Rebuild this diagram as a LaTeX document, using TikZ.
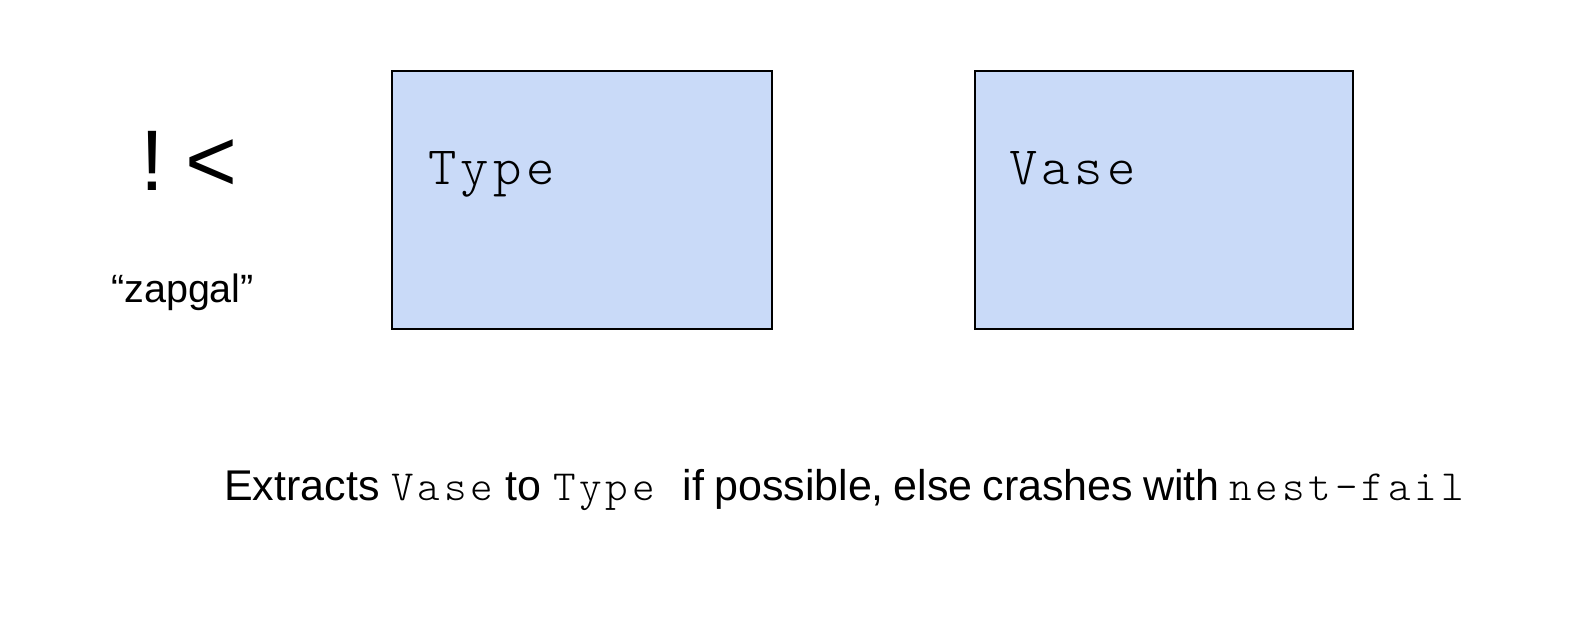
\documentclass[tikz,border=0pt]{standalone}
\usepackage{fontspec}
\setmainfont{Liberation Sans}
\newfontfamily\monofont{lmmonolt10-regular.otf}[LetterSpace=8]
\newfontfamily\capmono{lmmonolt10-regular.otf}[LetterSpace=9]
\definecolor{boxblue}{HTML}{C9DAF8}
\tikzset{
  typebox/.style={draw=black, line width=2pt, fill=boxblue},
  monolabel/.style={anchor=base west, inner sep=0pt, font=\monofont\fontsize{54}{60}\selectfont},
  plainlabel/.style={anchor=base west, inner sep=0pt}
}
\begin{document}
\begin{tikzpicture}[x=1pt,y=1pt]
\useasboundingbox (0,0) rectangle (1592,-616);
% boxes
\draw[typebox] (392,-71) rectangle (772,-329);
\draw[typebox] (975,-71) rectangle (1353,-329);
\node[monolabel] (type) at (428,-184) {Type};
\node[monolabel] (vase) at (1009,-184) {Vase};
% symbol
\node[plainlabel, font=\fontsize{86}{90}\selectfont] (bang) at (140,-190) {!};
\node[plainlabel, font=\fontsize{89}{95}\selectfont] (lt) at (185,-191) {<};
\node[plainlabel, font=\fontsize{39.5}{48}\selectfont] (zapgal) at (111,-302) {“zapgal”};
% caption
\node[plainlabel, font=\fontsize{43}{50}\selectfont] (caption) at (224,-500)
  {Extracts {\capmono Vase} to {\capmono Type}\ \ \hspace{4pt}{\spaceskip=0.23em\relax if possible, else crashes with }{\capmono nest-fail}};
\end{tikzpicture}
\end{document}
